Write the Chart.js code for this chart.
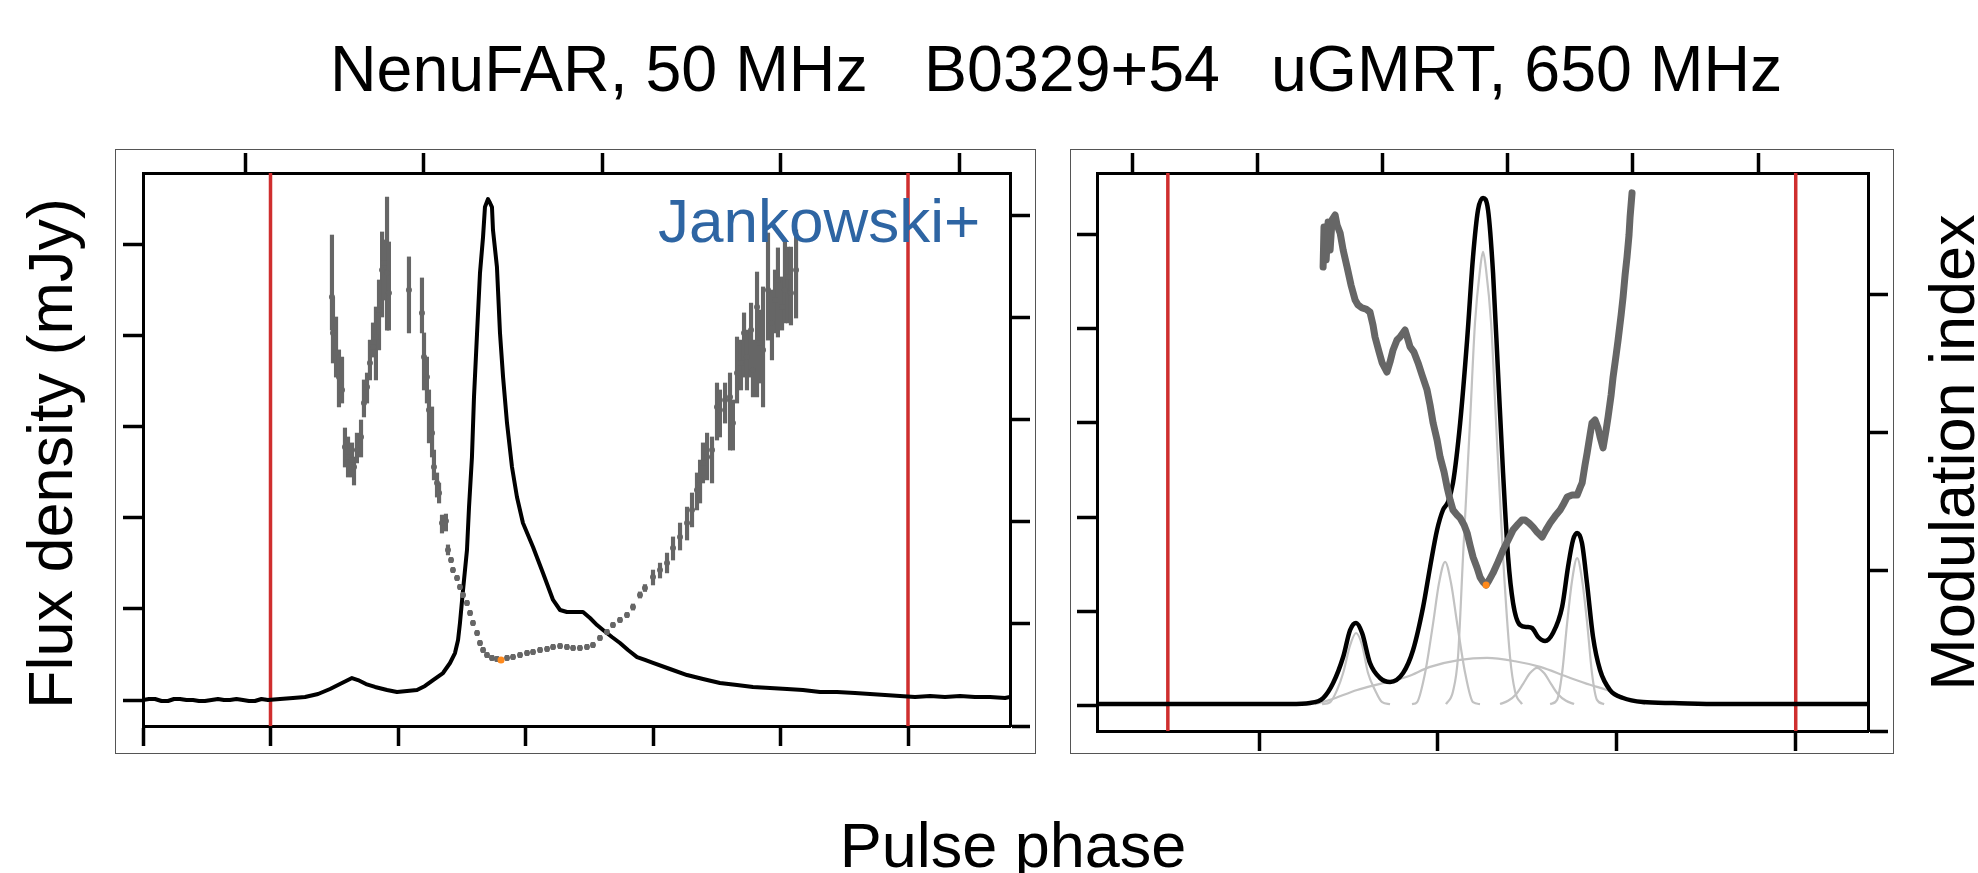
<!DOCTYPE html>
<html>
<head>
<meta charset="utf-8">
<script src="https://cdn.jsdelivr.net/npm/chart.js@4.4.0/dist/chart.umd.min.js"></script>
<style>
  body { margin:0; background:#fff; width:1978px; height:873px; overflow:hidden; position:relative;
         font-family:"Liberation Sans", Arial, sans-serif; }
  .txt { position:absolute; white-space:nowrap; line-height:1; color:#000; }
  .rot { text-align:center; width:600px; transform:rotate(-90deg); }
  .frame { position:absolute; border:1px solid #555; box-sizing:border-box; pointer-events:none; }
  canvas { position:absolute; }
</style>
</head>
<body>

<div class="txt" style="left:330px;top:37px;font-size:64.5px">NenuFAR, 50 MHz</div>
<div class="txt" style="left:924px;top:37px;font-size:64.5px">B0329+54</div>
<div class="txt" style="left:1271px;top:37px;font-size:64.5px">uGMRT, 650 MHz</div>

<canvas id="left" width="921" height="605" style="left:115px;top:149px"></canvas>
<div class="frame" style="left:115px;top:149px;width:921px;height:605px"></div>
<canvas id="right" width="824" height="605" style="left:1070px;top:149px"></canvas>
<div class="frame" style="left:1070px;top:149px;width:824px;height:605px"></div>

<div class="txt" style="left:658px;top:190px;font-size:62px;color:#2e65a3">Jankowski+</div>
<div class="txt rot" style="left:-250px;top:422px;font-size:63px;height:63px">Flux density (mJy)</div>
<div class="txt rot" style="left:1652px;top:421px;font-size:63px;height:63px">Modulation index</div>
<div class="txt" style="left:713px;top:814px;width:600px;text-align:center;font-size:63px">Pulse phase</div>

<script>
// ---------- NenuFAR 50 MHz (left panel) ----------
const phaseL = [0.2000,0.2047,0.2094,0.2145,0.2196,0.2243,0.2290,0.2341,0.2392,0.2439,
  0.2486,0.2537,0.2588,0.2635,0.2682,0.2733,0.2784,0.2831,0.2878,0.2929,
  0.2980,0.3075,0.3176,0.3271,0.3373,0.3467,0.3545,0.3608,0.3639,0.3686,
  0.3749,0.3820,0.3914,0.3992,0.4071,0.4149,0.4212,0.4275,0.4353,0.4408,
  0.4447,0.4471,0.4486,0.4510,0.4541,0.4557,0.4580,0.4596,0.4620,0.4643,
  0.4667,0.4682,0.4706,0.4722,0.4737,0.4745,0.4776,0.4800,0.4824,0.4855,
  0.4894,0.4933,0.4980,0.5059,0.5137,0.5216,0.5271,0.5325,0.5373,0.5451,
  0.5506,0.5561,0.5608,0.5678,0.5741,0.5804,0.5875,0.5937,0.6000,0.6133,
  0.6267,0.6392,0.6525,0.6659,0.6784,0.6918,0.7051,0.7176,0.7310,0.7443,
  0.7584,0.7702,0.7820,0.7937,0.8055,0.8173,0.8290,0.8408,0.8525,0.8643,
  0.8761,0.8800];
const fluxL = [0.0,1.1,1.1,-1.1,-1.1,1.1,1.1,0.0,0.0,-1.1,
  -1.1,0.0,1.1,0.0,0.0,1.1,0.0,-1.1,-1.1,1.1,
  0.0,1.1,2.2,3.3,6.6,12.1,17.5,21.9,24.1,21.9,
  17.5,14.3,11.0,8.8,9.9,11.0,15.4,21.9,29.6,40.6,
  51.5,65.8,84.4,120.6,164.5,211.6,266.4,332.2,402.4,468.2,
  507.7,540.6,549.3,545.0,540.6,515.4,474.8,402.4,354.2,303.7,
  255.5,222.6,194.1,167.8,139.3,109.7,98.7,96.5,96.5,96.5,
  89.9,82.2,76.8,69.1,62.5,54.8,47.1,43.9,40.6,34.0,
  27.4,23.0,18.6,16.4,14.3,13.2,12.1,11.0,8.8,8.8,
  7.7,6.6,5.5,4.4,3.3,4.4,3.3,4.4,3.3,3.3,
  2.2,3.3];

const modPhaseL = [0.3482,0.3490,0.3514,0.3537,0.3561,0.3584,0.3608,0.3639,0.3655,0.3678,
  0.3710,0.3733,0.3757,0.3780,0.3804,0.3827,0.3851,0.3875,0.3890,0.3914,
  0.3929,0.4086,0.4188,0.4204,0.4227,0.4243,0.4267,0.4282,0.4306,0.4322,
  0.4345,0.4376,0.4392,0.4416,0.4431,0.4463,0.4486,0.4510,0.4541,0.4565,
  0.4588,0.4620,0.4643,0.4667,0.4698,0.4737,0.4776,0.4808,0.4855,0.4902,
  0.4957,0.5012,0.5059,0.5114,0.5169,0.5216,0.5271,0.5325,0.5373,0.5427,
  0.5482,0.5529,0.5584,0.5639,0.5686,0.5741,0.5796,0.5843,0.5898,0.5937,
  0.6000,0.6055,0.6110,0.6157,0.6212,0.6267,0.6306,0.6345,0.6369,0.6392,
  0.6424,0.6463,0.6502,0.6525,0.6565,0.6604,0.6627,0.6659,0.6690,0.6714,
  0.6737,0.6769,0.6784,0.6816,0.6839,0.6863,0.6902,0.6933,0.6957,0.6980,
  0.7012,0.7035,0.7059,0.7082,0.7122];
const modL = [2.099,1.923,1.825,1.707,1.644,1.365,1.316,1.301,1.267,1.350,
  1.414,1.580,1.659,1.776,1.854,1.903,2.035,2.231,2.265,2.216,
  2.118,2.133,2.021,1.805,1.707,1.546,1.433,1.267,1.189,1.140,
  0.993,1.003,0.861,0.812,0.763,0.724,0.680,0.641,0.602,0.553,
  0.504,0.455,0.406,0.372,0.347,0.333,0.328,0.323,0.333,0.338,
  0.347,0.357,0.362,0.372,0.377,0.387,0.391,0.387,0.382,0.382,
  0.387,0.396,0.431,0.460,0.494,0.519,0.543,0.582,0.641,0.675,
  0.729,0.763,0.797,0.871,0.925,0.993,1.057,1.155,1.204,1.287,
  1.316,1.350,1.561,1.546,1.595,1.610,1.482,1.727,1.776,1.923,
  1.805,1.937,1.742,2.050,1.874,1.840,2.133,1.972,2.084,2.182,
  2.050,2.133,2.197,2.118,2.231];
const modHiL = [2.402,2.099,2.001,1.840,1.805,1.458,1.414,1.385,1.316,1.433,
  1.497,1.693,1.727,1.888,1.972,2.050,2.182,2.417,2.378,2.588,
  2.368,2.295,2.192,1.923,1.805,1.644,1.561,1.350,1.238,1.189,
  1.032,1.037,0.886,0.824,0.775,0.736,0.692,0.653,0.614,0.565,
  0.516,0.467,0.418,0.384,0.359,0.345,0.340,0.335,0.345,0.350,
  0.359,0.369,0.374,0.384,0.389,0.399,0.403,0.399,0.394,0.394,
  0.399,0.408,0.443,0.472,0.506,0.531,0.555,0.597,0.656,0.692,
  0.763,0.797,0.846,0.925,0.993,1.071,1.140,1.238,1.301,1.385,
  1.433,1.414,1.678,1.644,1.678,1.727,1.595,1.903,1.888,2.021,
  1.937,2.069,1.888,2.221,2.035,2.148,2.412,2.133,2.231,2.339,
  2.197,2.378,2.343,2.343,2.427];
const modLoL = [1.937,1.776,1.707,1.561,1.580,1.267,1.218,1.218,1.179,1.287,
  1.316,1.512,1.580,1.693,1.805,1.693,1.840,2.001,2.084,1.937,
  1.937,1.923,1.923,1.644,1.580,1.385,1.316,1.204,1.120,1.091,
  0.944,0.954,0.837,0.800,0.751,0.712,0.668,0.629,0.590,0.541,
  0.492,0.443,0.394,0.360,0.335,0.321,0.316,0.311,0.321,0.326,
  0.335,0.345,0.350,0.360,0.365,0.375,0.379,0.375,0.370,0.370,
  0.375,0.384,0.419,0.448,0.482,0.507,0.531,0.567,0.626,0.658,
  0.690,0.724,0.749,0.812,0.861,0.910,0.974,1.057,1.091,1.189,
  1.204,1.189,1.399,1.414,1.482,1.350,1.350,1.580,1.644,1.707,
  1.644,1.707,1.610,1.610,1.678,1.561,1.888,1.791,1.923,1.903,
  1.937,1.972,1.972,1.962,1.996];
const modMinL = [0.4808, 0.323];

const redL = [0.3, 0.8];
const xRangeL = [0.2, 0.88];
const fluxRangeL = [-28.5, 577.9];
const modRangeL = [0, 2.7055];
const xTicksL = [0.2, 0.3, 0.4, 0.5, 0.6, 0.7, 0.8];
const xTopTicksL = [0.28, 0.42, 0.56, 0.70, 0.84];
const fluxTicksL = [0, 100, 200, 300, 400, 500];
const modTicksL = [0, 0.5, 1.0, 1.5, 2.0, 2.5];

// ---------- uGMRT 650 MHz (right panel) ----------
const phaseR = [0.3094,0.3670,0.4173,0.4285,0.4358,0.4414,0.4470,0.4509,0.4542,0.4576,
  0.4620,0.4676,0.4732,0.4805,0.4861,0.4917,0.4956,0.4995,0.5028,0.5056,
  0.5084,0.5124,0.5163,0.5196,0.5224,0.5252,0.5280,0.5308,0.5336,0.5364,
  0.5392,0.5420,0.5459,0.5498,0.5526,0.5560,0.5599,0.5643,0.5694,0.5727,
  0.5755,0.5778,0.5805,0.5833,0.5867,0.5906,0.5962,0.6035,0.6146,0.6314,
  0.6577,0.7404];
const fluxR = [0.32,0.32,0.32,0.53,1.59,4.78,10.30,16.03,17.52,15.39,
  9.02,5.84,4.99,6.90,11.78,20.91,29.40,37.26,41.50,43.20,
  47.24,59.98,77.60,95.22,105.20,107.75,105.20,91.82,70.59,49.36,
  31.53,21.76,17.09,16.67,16.45,14.54,13.69,15.39,20.91,29.40,
  35.14,36.62,34.50,26.01,14.54,7.54,3.29,1.59,0.74,0.53,
  0.32,0.32];

const comp1Phase = [0.4352,0.4397,0.4436,0.4470,0.4509,0.4542,0.4576,0.4609,0.4648,0.4688,0.4732];
const comp1Flux  = [0.3,0.7,3.3,6.9,12.8,15.4,12.8,6.9,3.3,0.7,0.3];
const comp2Phase = [0.4855,0.4883,0.4928,0.4973,0.5006,0.5040,0.5073,0.5107,0.5152,0.5196,0.5235];
const comp2Flux  = [0.3,0.7,6.9,17.5,26.0,30.5,26.0,17.5,6.9,0.7,0.3];
const comp3Phase = [0.5045,0.5084,0.5112,0.5140,0.5179,0.5207,0.5235,0.5252,0.5269,0.5297,0.5325,0.5364,0.5403,0.5431,0.5470];
const comp3Flux  = [0.3,3.0,10.3,31.5,60.0,81.2,92.5,96.3,92.5,81.2,60.0,31.5,10.3,3.0,0.3];
const comp4Phase = [0.5347,0.5392,0.5437,0.5476,0.5515,0.5554,0.5593,0.5632,0.5671,0.5716,0.5761];
const comp4Flux  = [0.3,1.0,2.4,4.6,6.9,8.0,6.9,4.6,2.4,1.0,0.3];
const comp5Phase = [0.5627,0.5666,0.5694,0.5722,0.5750,0.5778,0.5806,0.5834,0.5861,0.5889,0.5929];
const comp5Flux  = [0.3,1.2,6.9,17.5,26.6,31.3,26.6,17.5,6.9,1.2,0.3];
const broadPhase = [0.4313,0.4397,0.4548,0.4676,0.4827,0.4956,0.5124,0.5275,0.5431,0.5571,0.5722,0.5850,0.5945,0.6046,0.6158];
const broadFlux  = [0.3,1.2,3.3,4.6,6.1,8.2,9.7,10.1,9.4,8.2,6.1,4.4,3.3,1.6,0.3];

const modPhaseR = [0.4358,0.4363,0.4375,0.4386,0.4397,0.4408,0.4425,0.4436,0.4453,0.4470,
  0.4492,0.4514,0.4537,0.4553,0.4576,0.4598,0.4620,0.4637,0.4648,0.4671,
  0.4688,0.4715,0.4732,0.4749,0.4771,0.4788,0.4816,0.4833,0.4844,0.4866,
  0.4889,0.4911,0.4939,0.4956,0.4973,0.4995,0.5012,0.5034,0.5051,0.5068,
  0.5084,0.5107,0.5124,0.5146,0.5163,0.5179,0.5196,0.5219,0.5235,0.5252,
  0.5269,0.5286,0.5308,0.5336,0.5364,0.5392,0.5420,0.5448,0.5470,0.5487,
  0.5509,0.5532,0.5554,0.5582,0.5604,0.5627,0.5655,0.5683,0.5699,0.5722,
  0.5750,0.5778,0.5794,0.5806,0.5822,0.5834,0.5850,0.5861,0.5878,0.5895,
  0.5906,0.5923,0.5940,0.5951,0.5968,0.5979,0.5996,0.6007,0.6024,0.6035,
  0.6046,0.6057,0.6068,0.6074,0.6085];
const modR = [1.601,1.746,1.627,1.764,1.663,1.772,1.790,1.754,1.725,1.663,
  1.601,1.536,1.482,1.464,1.453,1.449,1.438,1.391,1.348,1.293,
  1.254,1.221,1.257,1.301,1.337,1.348,1.373,1.337,1.312,1.293,
  1.254,1.210,1.156,1.101,1.036,0.975,0.913,0.859,0.804,0.757,
  0.721,0.703,0.692,0.667,0.638,0.594,0.551,0.511,0.478,0.460,
  0.449,0.467,0.493,0.533,0.576,0.612,0.649,0.670,0.685,0.685,
  0.674,0.659,0.641,0.623,0.649,0.674,0.699,0.721,0.739,0.768,
  0.775,0.775,0.801,0.819,0.884,0.928,0.993,1.036,1.047,1.018,
  0.986,0.946,1.011,1.058,1.138,1.203,1.283,1.337,1.428,1.493,
  1.572,1.638,1.717,1.783,1.870];
const modMinR = [0.5269, 0.449];

const redR = [0.349, 0.7];
const xRangeR = [0.3094, 0.7404];
const fluxRangeR = [-5.41, 113.05];
const modRangeR = [-0.0797, 1.942];
const xTicksR = [0.4, 0.5, 0.6, 0.7];
const xTopTicksR = [0.329, 0.399, 0.469, 0.539, 0.609, 0.679];
const fluxTicksR = [0, 20, 40, 60, 80, 100];
const modTicksR = [-0.0797, 0.5, 1.0, 1.5];

const RED = '#cf2e2e';
const GREY = '#666666';
const ORANGE = '#ff8a1c';
const COMP = '#c2c2c2';

const xy = (xs, ys) => xs.map((x, i) => ({ x, y: ys[i] }));

function tickAxis(axis, position, range, tickVals) {
  return {
    type: 'linear', axis, position, min: range[0], max: range[1], offset: false,
    afterBuildTicks: s => { s.ticks = tickVals.map(v => ({ value: v })); },
    ticks: { display: false },
    grid: { drawOnChartArea: false, drawTicks: true, tickLength: 20, tickWidth: 3.5, tickColor: '#000', offset: false },
    border: { display: true, color: '#000', width: 3 }
  };
}

function vline(x, range) {
  return { type: 'line', data: [{ x, y: range[0] }, { x, y: range[1] }], xAxisID: 'x', yAxisID: 'y',
           borderColor: RED, borderWidth: 3.5, pointRadius: 0, order: 9 };
}

function baseOptions(pad, scales) {
  return {
    responsive: false, animation: false, events: [], devicePixelRatio: 1,
    layout: { padding: pad },
    plugins: { legend: { display: false }, tooltip: { enabled: false } },
    scales
  };
}

// left chart
new Chart(document.getElementById('left'), {
  type: 'line',
  data: {
    datasets: [
      { data: [{ x: modMinL[0], y: modMinL[1] }], xAxisID: 'x', yAxisID: 'yr', showLine: false,
        pointRadius: 3.5, pointBackgroundColor: ORANGE, pointBorderWidth: 0, order: 0 },
      { data: xy(modPhaseL, modL), xAxisID: 'x', yAxisID: 'yr', showLine: false,
        pointRadius: 3, pointBackgroundColor: GREY, pointBorderWidth: 0, order: 1 },
      { type: 'bar', data: modPhaseL.map((p, i) => ({ x: p, y: [modLoL[i], modHiL[i]] })),
        xAxisID: 'x', yAxisID: 'yr', backgroundColor: GREY, barThickness: 3.5, order: 2 },
      { data: xy(phaseL, fluxL), xAxisID: 'x', yAxisID: 'y', borderColor: '#000', borderWidth: 4,
        pointRadius: 0, tension: 0, borderJoinStyle: 'round', order: 3 },
      vline(redL[0], fluxRangeL), vline(redL[1], fluxRangeL)
    ]
  },
  options: baseOptions({ left: 8, top: 4, right: 6, bottom: 8 }, {
    x: tickAxis('x', 'bottom', xRangeL, xTicksL),
    xt: tickAxis('x', 'top', xRangeL, xTopTicksL),
    y: tickAxis('y', 'left', fluxRangeL, fluxTicksL),
    yr: tickAxis('y', 'right', modRangeL, modTicksL)
  })
});

// right chart
const compStyle = { xAxisID: 'x', yAxisID: 'y', borderColor: COMP, borderWidth: 2.2, pointRadius: 0,
                    cubicInterpolationMode: 'monotone', order: 5 };
new Chart(document.getElementById('right'), {
  type: 'line',
  data: {
    datasets: [
      { data: [{ x: modMinR[0], y: modMinR[1] }], xAxisID: 'x', yAxisID: 'yr', showLine: false,
        pointRadius: 3.5, pointBackgroundColor: ORANGE, pointBorderWidth: 0, order: 0 },
      { data: xy(modPhaseR, modR), xAxisID: 'x', yAxisID: 'yr', borderColor: GREY, borderWidth: 7,
        pointRadius: 0, tension: 0, borderJoinStyle: 'round', borderCapStyle: 'round', order: 1 },
      { data: xy(phaseR, fluxR), xAxisID: 'x', yAxisID: 'y', borderColor: '#000', borderWidth: 4.5,
        pointRadius: 0, cubicInterpolationMode: 'monotone', order: 2 },
      { data: xy(comp1Phase, comp1Flux), ...compStyle },
      { data: xy(comp2Phase, comp2Flux), ...compStyle },
      { data: xy(comp3Phase, comp3Flux), ...compStyle },
      { data: xy(comp4Phase, comp4Flux), ...compStyle },
      { data: xy(comp5Phase, comp5Flux), ...compStyle },
      { data: xy(broadPhase, broadFlux), ...compStyle },
      vline(redR[0], fluxRangeR), vline(redR[1], fluxRangeR)
    ]
  },
  options: baseOptions({ left: 7, top: 4, right: 6, bottom: 3 }, {
    x: tickAxis('x', 'bottom', xRangeR, xTicksR),
    xt: tickAxis('x', 'top', xRangeR, xTopTicksR),
    y: tickAxis('y', 'left', fluxRangeR, fluxTicksR),
    yr: tickAxis('y', 'right', modRangeR, modTicksR)
  })
});
</script>
</body>
</html>
